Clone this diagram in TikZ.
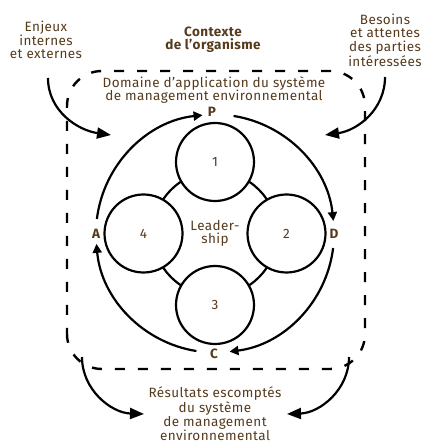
\documentclass[tikz,border=0pt]{standalone}
\usepackage{fontspec}
\setmainfont{Fira Sans}[LetterSpace=3]
\usetikzlibrary{arrows.meta,calc}
\definecolor{txt}{RGB}{85,58,28}
\begin{document}
\begin{tikzpicture}[x=1pt,y=1pt,
  ln/.style={line width=2.2pt, draw=black},
  frame/.style={line width=2.4pt, dash pattern=on 10pt off 13pt, dash phase=4pt, rounded corners=35pt},
  pdca/.style={ln, -{Triangle[length=9pt,width=9pt]}},
  outer/.style={ln, -{Triangle[length=14pt,width=11pt]}},
  lbl/.style={text=txt, font=\fontsize{13.5}{13.5}\selectfont, align=center, inner sep=0pt},
  blbl/.style={text=txt, font=\bfseries\fontsize{13.5}{13.5}\selectfont, align=center, inner sep=0pt},
  ring/.style={ln, fill=white},
]
\useasboundingbox (0,0) rectangle (425,444);
% dashed frame
\draw[frame] (67,75) rectangle (365,373);
% texts
\node[lbl] (enj) at (46,404) {Enjeux\\internes\\et externes};
\node[blbl] (ctx) at (213,404.5) {Contexte\\de l’organisme};
\node[lbl] (bes) at (385,404) {Besoins\\et attentes\\des parties\\intéressées};
\node[lbl] (dom) at (214,354) {Domaine d’application du système\\de management environnemental};
\node[lbl, font=\fontsize{13.5}{13}\selectfont] (res) at (215,30) {Résultats escomptés\\du système\\de management\\environnemental};
% PDCA letters
\node[blbl] (P) at (212,332) {P};
\node[blbl] (D) at (334,210) {D};
\node[blbl] (C) at (214,90) {C};
\node[blbl] (A) at (96,210) {A};
% centre
\coordinate (O) at (215,210.5);
\draw[ln] (O) circle[radius=62];
\node[ring, circle, minimum size=78pt, inner sep=0pt] (c1) at (215,282) {};
\node[ring, circle, minimum size=78pt, inner sep=0pt] (c2) at (286.5,210.5) {};
\node[ring, circle, minimum size=78pt, inner sep=0pt] (c3) at (215,139) {};
\node[ring, circle, minimum size=78pt, inner sep=0pt] (c4) at (143.5,210.5) {};
\node[lbl] at (c1) {1};
\node[lbl] at (c2) {2};
\node[lbl] at (c3) {3};
\node[lbl] at (c4) {4};
\node[lbl] (lead) at (O) {Leader-\\ship};
% PDCA arcs
\coordinate (pd) at ([shift={(81:119)}]O);
\coordinate (dc) at ([shift={(-7:119)}]O);
\coordinate (ca) at ([shift={(-99:119)}]O);
\coordinate (ap) at ([shift={(173:119)}]O);
\draw[pdca] (pd) arc[start angle=81, end angle=6, radius=119];
\draw[pdca] (dc) arc[start angle=-7, end angle=-83, radius=119];
\draw[pdca] (ca) arc[start angle=-99, end angle=-175, radius=119];
\draw[pdca] (ap) arc[start angle=173, end angle=96, radius=119];
% outer arrows
\coordinate (enjS) at (48,366);
\coordinate (enjT) at (111,309);
\coordinate (besS) at (385,367);
\coordinate (besT) at (325,309);
\coordinate (resLS) at (82,87);
\coordinate (resLT) at (144,30);
\coordinate (resRS) at (349,87);
\coordinate (resRT) at (287,30);
\draw[outer] (enjS) to[out=-90, in=172] (enjT);
\draw[outer] (besS) to[out=-90, in=8] (besT);
\draw[outer] (resLS) to[out=-90, in=178] (resLT);
\draw[outer] (resRS) to[out=-90, in=2] (resRT);
\end{tikzpicture}
\end{document}
